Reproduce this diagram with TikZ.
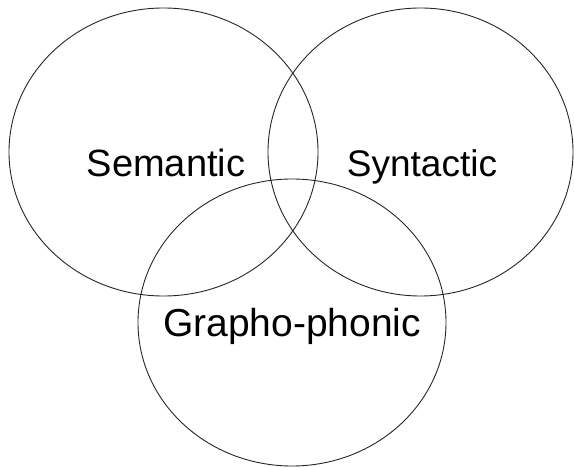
\documentclass[tikz,border=0pt]{standalone}
\usepackage{fontspec}
\setmainfont{Liberation Sans}
\usetikzlibrary{shapes.geometric}
\begin{document}
\begin{tikzpicture}[x=1pt,y=-1pt,
  ring/.style={draw=black!85,line width=0.9pt,ellipse,inner sep=0pt},
  lbl/.style={font=\fontsize{37}{40}\selectfont,inner sep=0pt,anchor=base}]
\useasboundingbox (0,0) rectangle (574,468);
\node[ring,minimum width=309pt,minimum height=288pt] (sem) at (163.5,152) {};
\node[ring,minimum width=305pt,minimum height=288pt] (syn) at (420.5,152) {};
\node[ring,minimum width=308pt,minimum height=287pt] (gra) at (292,322.5) {};
\node[lbl,font=\fontsize{38}{40}\selectfont] (tsem) at (166,177) {Semantic};
\node[lbl] (tsyn) at (422,177) {Syntactic};
\node[lbl,font=\fontsize{39}{40}\selectfont] (tgra) at (292,337) {Grapho-phonic};
\end{tikzpicture}
\end{document}
